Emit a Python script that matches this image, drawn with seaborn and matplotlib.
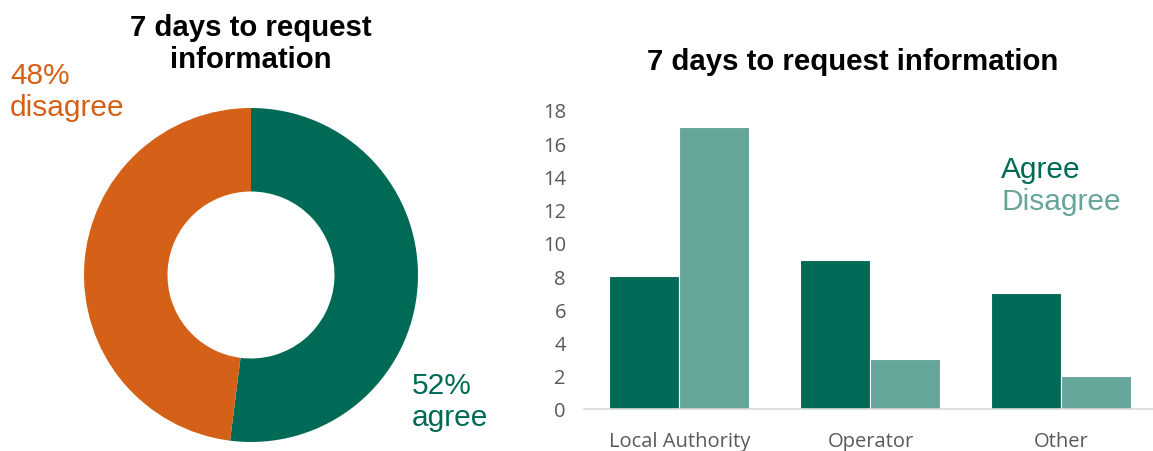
import matplotlib
matplotlib.use("Agg")
import matplotlib.pyplot as plt
import seaborn as sns
import pandas as pd

# Data
donut_labels = ["agree", "disagree"]
donut_values = [52, 48]
categories = ["Local Authority", "Operator", "Other"]
agree_values = [8, 9, 7]
disagree_values = [17, 3, 2]
series_names = ["Agree", "Disagree"]
yticks = [0, 2, 4, 6, 8, 10, 12, 14, 16, 18]

GREEN = "#006A57"
LIGHT = "#66A59A"
ORANGE = "#D46117"
GRAY = "#595959"

sns.set_theme(style="white")
plt.rcParams["font.family"] = ["Liberation Sans", "DejaVu Sans"]

fig = plt.figure(figsize=(11.53, 4.52), dpi=100)

# Donut
W, H = 1153, 452
axd = fig.add_axes([84 / W, (452 - 443) / H, 334 / W, 334 / H])
axd.pie(donut_values, colors=[GREEN, ORANGE], startangle=90, counterclock=False,
        radius=1.0, wedgeprops=dict(width=0.5, edgecolor="none"))
axd.set_xlim(-1, 1)
axd.set_ylim(-1, 1)
axd.set_aspect("equal")
axd.axis("off")

fig.text(251 / W, 1 - 44 / H, "7 days to request\ninformation", ha="center", va="center",
         fontsize=21.2, fontweight="bold", color="black", linespacing=1.22)
fig.text(10 / W, 1 - 92 / H, f"{donut_values[1]}%\n{donut_labels[1]}", ha="left", va="center",
         fontsize=21.5, color=ORANGE, linespacing=1.2)
fig.text(412 / W, 1 - 402 / H, f"{donut_values[0]}%\n{donut_labels[0]}", ha="left", va="center",
         fontsize=21.5, color=GREEN, linespacing=1.2)

# Bar chart
df = pd.DataFrame({
    "category": categories * 2,
    "value": agree_values + disagree_values,
    "series": [series_names[0]] * len(categories) + [series_names[1]] * len(categories),
})
left = 584 / W
axb = fig.add_axes([left, (452 - 410) / H, 1 - left, (410 - 111) / H])
sns.barplot(data=df, x="category", y="value", hue="series", hue_order=series_names,
            order=categories, palette=[GREEN, LIGHT], width=0.733, ax=axb,
            edgecolor="white", linewidth=0.8, legend=False, saturation=1)
axb.set_xlim(-0.5, 2.48)
axb.set_ylim(0, 18)
axb.set_yticks(yticks)
axb.set_xlabel("")
axb.set_ylabel("")
for s in ["top", "right", "left"]:
    axb.spines[s].set_visible(False)
axb.spines["bottom"].set_color("#D9D9D9")
axb.spines["bottom"].set_linewidth(1.2)
axb.tick_params(axis="both", length=0, colors=GRAY, labelsize=14.5)
axb.tick_params(axis="y", pad=13)
axb.tick_params(axis="x", pad=16)
for lab in axb.get_xticklabels() + axb.get_yticklabels():
    lab.set_family(["Open Sans", "DejaVu Sans"])

fig.text(853 / W, 1 - 62 / H, "7 days to request information", ha="center", va="center",
         fontsize=21.2, fontweight="bold", color="black")
fig.text(1001 / W, 1 - 170 / H, series_names[0], ha="left", va="center", fontsize=21.5, color=GREEN)
fig.text(1001 / W, 1 - 202 / H, series_names[1], ha="left", va="center", fontsize=21.5, color=LIGHT)

fig.savefig("out.png", dpi=100)
